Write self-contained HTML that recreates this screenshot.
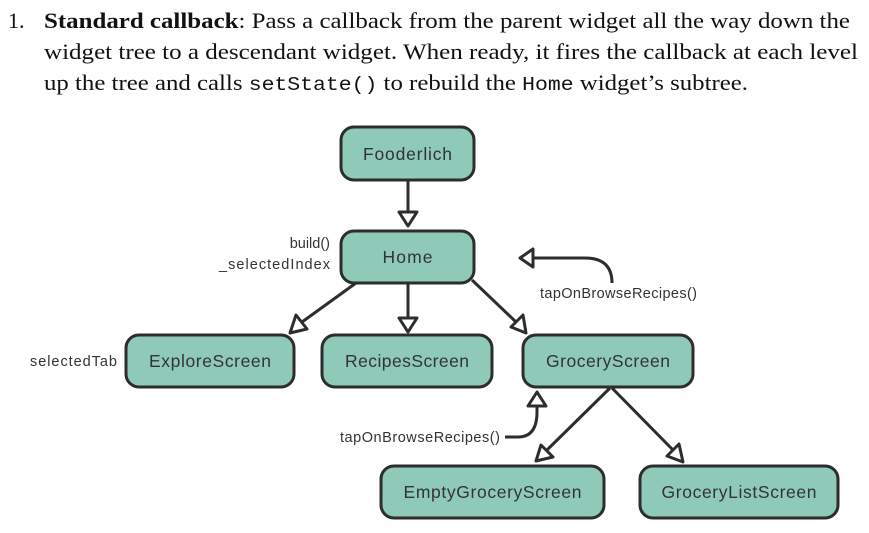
<!DOCTYPE html>
<html><head><meta charset="utf-8"><style>
html,body{margin:0;padding:0;background:#fff;}
svg{display:block;}
.h{font-family:"Liberation Serif",serif;font-size:22px;fill:#111;}
.m{font-family:"Liberation Mono",monospace;font-size:19px;}
.n{font-family:"Liberation Sans",sans-serif;font-size:17.5px;fill:#333;}
.l{font-family:"Liberation Sans",sans-serif;font-size:14.5px;fill:#333;}
rect{fill:#8fc9b8;stroke:#2d2d2d;stroke-width:3;}
.c{fill:none;stroke:#2d2d2d;stroke-width:3;}
.a{fill:#fff;stroke:#2d2d2d;stroke-width:3;stroke-linejoin:round;}
</style></head><body>
<svg width="869" height="533" viewBox="0 0 869 533">
<text class="h" x="8" y="28">1.</text>
<text class="h" x="44" y="28" textLength="806" lengthAdjust="spacingAndGlyphs"><tspan font-weight="bold">Standard callback</tspan>: Pass a callback from the parent widget all the way down the</text>
<text class="h" x="44" y="59" textLength="814" lengthAdjust="spacingAndGlyphs">widget tree to a descendant widget. When ready, it fires the callback at each level</text>
<text class="h" x="44" y="90" textLength="704" lengthAdjust="spacingAndGlyphs">up the tree and calls <tspan class="m">setState()</tspan> to rebuild the <tspan class="m">Home</tspan> widget’s subtree.</text>

<line class="c" x1="408" y1="180" x2="408" y2="212"/>
<polygon class="a" points="399,212 417,212 408,226"/>
<line class="c" x1="356" y1="283" x2="302" y2="322"/>
<polygon class="a" points="296,315 307,329 290,333"/>
<line class="c" x1="408" y1="283" x2="408" y2="318"/>
<polygon class="a" points="399,318 417,318 408,332"/>
<line class="c" x1="472" y1="280" x2="516" y2="322"/>
<polygon class="a" points="511,327 523,315 526,333"/>
<line class="c" x1="610" y1="388" x2="547" y2="450"/>
<polygon class="a" points="541,445 553,457 536,461"/>
<line class="c" x1="612" y1="388" x2="673" y2="450"/>
<polygon class="a" points="667,456 679,444 683,462"/>
<path class="c" d="M533,258 H585 Q612,258 612,283"/>
<polygon class="a" points="533,249 533,267 520,258"/>
<path class="c" d="M505,437 H518 Q537,437 537,412 V406"/>
<polygon class="a" points="528,406 546,406 537,392"/>

<rect x="341" y="127" width="133" height="53" rx="13"/>
<text class="n" x="407.5" y="160" text-anchor="middle" textLength="89">Fooderlich</text>
<rect x="341" y="231" width="133" height="52" rx="13"/>
<text class="n" x="407.5" y="263" text-anchor="middle" textLength="50">Home</text>
<rect x="126" y="335" width="168" height="52" rx="13"/>
<text class="n" x="210" y="367" text-anchor="middle" textLength="122">ExploreScreen</text>
<rect x="322" y="335" width="170" height="52" rx="13"/>
<text class="n" x="407" y="367" text-anchor="middle" textLength="124">RecipesScreen</text>
<rect x="523" y="335" width="170" height="52" rx="13"/>
<text class="n" x="608" y="367" text-anchor="middle" textLength="124">GroceryScreen</text>
<rect x="381" y="466" width="223" height="52" rx="13"/>
<text class="n" x="492.5" y="498" text-anchor="middle" textLength="178">EmptyGroceryScreen</text>
<rect x="640" y="466" width="198" height="52" rx="13"/>
<text class="n" x="739" y="498" text-anchor="middle" textLength="155">GroceryListScreen</text>

<text class="l" x="330" y="248" text-anchor="end">build()</text>
<text class="l" x="330" y="269" text-anchor="end" textLength="111">_selectedIndex</text>
<text class="l" x="30" y="366" textLength="87">selectedTab</text>
<text class="l" x="540" y="298" textLength="157">tapOnBrowseRecipes()</text>
<text class="l" x="340" y="442" textLength="160">tapOnBrowseRecipes()</text>
</svg>
</body></html>
